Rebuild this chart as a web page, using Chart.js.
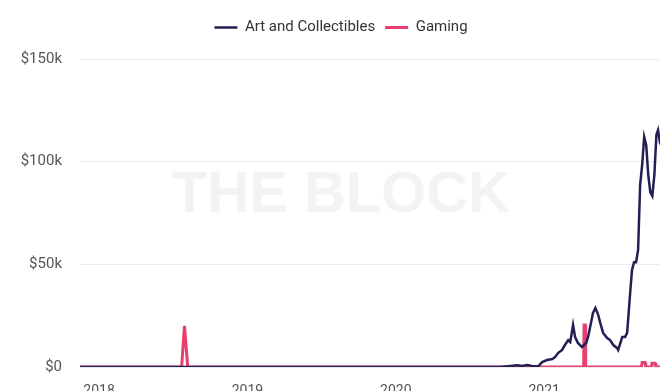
<!DOCTYPE html>
<html>
<head>
<meta charset="utf-8">
<style>
  html, body { margin: 0; padding: 0; background: #fff; overflow: hidden; }
  #wrap { width: 660px; height: 391px; overflow: hidden; }
</style>
<script src="https://cdn.jsdelivr.net/npm/chart.js@4.4.1/dist/chart.umd.min.js"></script>
</head>
<body>
<div id="wrap"><canvas id="myChart" width="682" height="400"></canvas></div>
<script>
// Tick labels
var yearTicks = [2018, 2019, 2020, 2021];
var valueTicks = [0, 50000, 100000, 150000];

// Art and Collectibles (USD)
var artDates = [
    '2017-11-15', '2020-09-15', '2020-10-09', '2020-10-27', '2020-11-08', '2020-11-20',
    '2020-12-02', '2020-12-17', '2020-12-27', '2021-01-08', '2021-01-21', '2021-01-28',
    '2021-02-04', '2021-02-14', '2021-02-21', '2021-03-01', '2021-03-06', '2021-03-11',
    '2021-03-13', '2021-03-18', '2021-03-25', '2021-04-04', '2021-04-14', '2021-04-19',
    '2021-05-01', '2021-05-07', '2021-05-14', '2021-05-19', '2021-05-26', '2021-06-05',
    '2021-06-12', '2021-06-20', '2021-06-29', '2021-07-02', '2021-07-12', '2021-07-19',
    '2021-07-24', '2021-07-27', '2021-08-01', '2021-08-05', '2021-08-10', '2021-08-15',
    '2021-08-20', '2021-08-25', '2021-08-30', '2021-09-04', '2021-09-09', '2021-09-14',
    '2021-09-19', '2021-09-24', '2021-09-29', '2021-10-04', '2021-10-08', '2021-10-13',
    '2021-10-23'
];
var artValues = [
    0, 0, 500, 800, 500, 1000,
    500, 300, 2400, 3400, 3900, 4900,
    6800, 8300, 10700, 13100, 12200, 18000,
    20500, 14600, 11700, 9700, 11700, 14600,
    26300, 28700, 25300, 21400, 16600, 14100,
    13100, 10700, 9300, 8300, 14600, 14600,
    16600, 24300, 37500, 47200, 51000, 51000,
    57000, 88600, 98400, 112000, 108000, 93500,
    85200, 83300, 93500, 113000, 115400, 109000,
    105700
];

// Gaming (USD)
var gamingDates = [
    '2017-11-15', '2018-07-23', '2018-07-30', '2018-08-07', '2021-04-08', '2021-04-09',
    '2021-04-12', '2021-04-13', '2021-08-28', '2021-08-30', '2021-09-06', '2021-09-08',
    '2021-09-21', '2021-09-23', '2021-10-01', '2021-10-03', '2021-10-23'
];
var gamingValues = [
    0, 0, 20000, 0, 0, 20500,
    20500, 0, 0, 2200, 2200, 0,
    0, 1800, 1800, 0, 0
];

function toYear(s) {
    var p = s.split('-').map(Number);
    var start = Date.UTC(p[0], 0, 1);
    var end = Date.UTC(p[0] + 1, 0, 1);
    return p[0] + (Date.UTC(p[0], p[1] - 1, p[2]) - start) / (end - start);
}

function points(dates, values) {
    return dates.map(function (d, i) { return { x: toYear(d), y: values[i] }; });
}

// faint brand mark behind the lines
var watermark = {
    id: 'watermark',
    beforeDraw: function (chart) {
        var c = chart.ctx;
        c.save();
        c.font = 'bold 58px "Liberation Sans"';
        c.fillStyle = '#f3f3f3';
        c.textAlign = 'center';
        c.textBaseline = 'alphabetic';
        c.fillText('THE BLOCK', 341, 212);
        c.restore();
    }
};

// extra room under the legend
var legendGap = {
    id: 'legendGap',
    beforeInit: function (chart) {
        var fit = chart.legend.fit;
        chart.legend.fit = function () {
            fit.bind(chart.legend)();
            this.height += 14;
        };
    }
};

var ctx = document.getElementById('myChart').getContext('2d');
var myChart = new Chart(ctx, {
    type: 'line',
    data: {
        datasets: [{
            label: 'Art and Collectibles',
            data: points(artDates, artValues),
            borderColor: '#221f55',
            backgroundColor: '#221f55',
            borderWidth: 2.5,
            pointRadius: 0,
            tension: 0
        }, {
            label: 'Gaming',
            data: points(gamingDates, gamingValues),
            borderColor: '#e8406e',
            backgroundColor: '#e8406e',
            borderWidth: 3,
            pointRadius: 0,
            tension: 0
        }]
    },
    options: {
        responsive: false,
        animation: false,
        devicePixelRatio: 1,
        layout: { padding: { top: 10, left: 0, right: 0, bottom: 0 } },
        plugins: {
            legend: {
                position: 'top',
                labels: {
                    usePointStyle: true,
                    pointStyle: 'line',
                    pointStyleWidth: 23,
                    padding: 10,
                    color: '#333',
                    font: { family: 'Roboto', size: 15 }
                }
            },
            tooltip: { enabled: false }
        },
        scales: {
            x: {
                type: 'linear',
                min: toYear('2017-11-15'),
                max: toYear('2021-12-06'),
                afterBuildTicks: function (s) {
                    s.ticks = yearTicks.map(function (v) { return { value: v }; });
                },
                afterFit: function (s) { s.height = 33; },
                grid: { display: false },
                border: { display: false },
                ticks: {
                    padding: 8,
                    color: '#555',
                    font: { family: 'Roboto', size: 14 },
                    maxRotation: 0,
                    callback: function (v) { return String(v); }
                }
            },
            y: {
                min: 0,
                max: 150000,
                afterBuildTicks: function (s) {
                    s.ticks = valueTicks.map(function (v) { return { value: v }; });
                },
                afterFit: function (s) { s.width = 80; },
                grid: { color: '#ebebeb', drawTicks: false },
                border: { display: false },
                ticks: {
                    padding: 18,
                    color: '#555',
                    font: { family: 'Roboto', size: 15 },
                    callback: function (v) { return v === 0 ? '$0' : '$' + (v / 1000) + 'k'; }
                }
            }
        }
    },
    plugins: [watermark, legendGap]
});
</script>
</body>
</html>
